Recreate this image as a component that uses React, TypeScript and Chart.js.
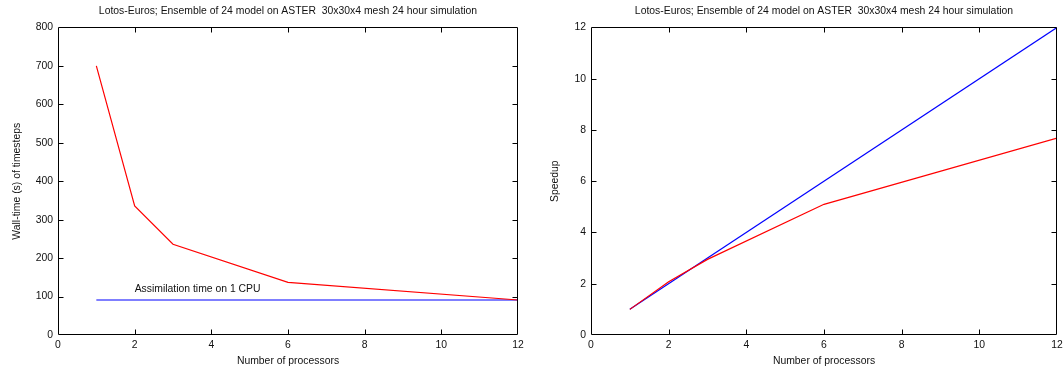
import React, { useEffect, useRef } from 'react';
import { Chart, registerables } from 'chart.js';

Chart.register(...registerables);

const TITLE = 'Lotos-Euros; Ensemble of 24 model on ASTER  30x30x4 mesh 24 hour simulation';
const X_TITLE = 'Number of processors';
const LEFT_Y_TITLE = 'Wall-time (s) of timesteps';
const RIGHT_Y_TITLE = 'Speedup';

// left panel data
const processors = [1, 2, 3, 6, 12];
const wallTime = [700, 336, 236, 137, 91];
const assimProcessors = [1, 12];
const assimTime = [91, 91];
const assimLabel = 'Assimilation time on 1 CPU';
const assimLabelAt = { x: 2, y: 119 };

// right panel data
const speedup = [1, 2.08, 2.95, 5.1, 7.68];
const idealProcessors = [1, 12];
const idealSpeedup = [1, 12];

const FONT = { family: '"Liberation Sans", Arial, sans-serif', size: 10.4 };
const TEXT = '#111';

const toPoints = (xs: number[], ys: number[]) => xs.map((x, i) => ({ x, y: ys[i] }));

const framePlugin = {
  id: 'gpFrame',
  afterDraw(chart: any) {
    const { ctx, chartArea: a, scales } = chart;
    const L = Math.round(a.left) + 0.5;
    const R = Math.round(a.right) - 0.5;
    const T = Math.round(a.top) + 0.5;
    const B = Math.round(a.bottom) - 0.5;
    ctx.save();
    ctx.strokeStyle = '#000';
    ctx.lineWidth = 1;
    ctx.beginPath();
    ctx.rect(L, T, R - L, B - T);
    const len = 5;
    scales.x.ticks.forEach((t: any) => {
      const px = Math.round(scales.x.getPixelForValue(t.value)) + 0.5;
      if (px <= L + 1 || px >= R - 1) return;
      ctx.moveTo(px, B); ctx.lineTo(px, B - len);
      ctx.moveTo(px, T); ctx.lineTo(px, T + len);
    });
    scales.y.ticks.forEach((t: any) => {
      const py = Math.round(scales.y.getPixelForValue(t.value)) + 0.5;
      if (py <= T + 1 || py >= B - 1) return;
      ctx.moveTo(L, py); ctx.lineTo(L + len, py);
      ctx.moveTo(R, py); ctx.lineTo(R - len, py);
    });
    ctx.stroke();
    const ann = chart.options.plugins.gpFrame && chart.options.plugins.gpFrame.label;
    if (ann) {
      ctx.fillStyle = TEXT;
      ctx.font = `${FONT.size}px ${FONT.family}`;
      ctx.textAlign = 'left';
      ctx.textBaseline = 'middle';
      ctx.fillText(ann.text, scales.x.getPixelForValue(ann.x), scales.y.getPixelForValue(ann.y));
    }
    ctx.restore();
  },
};

function makeConfig(p: {
  datasets: any[];
  yMax: number;
  yStep: number;
  yTitle: string;
  yTitlePad: number;
  yWidth: number;
  rightWidth: number;
  label?: any;
}): any {
  return {
    type: 'scatter',
    data: { datasets: p.datasets },
    plugins: [framePlugin],
    options: {
      responsive: false,
      animation: false,
      devicePixelRatio: 1,
      layout: { padding: 0 },
      plugins: {
        legend: { display: false },
        tooltip: { enabled: false },
        title: {
          display: true,
          text: TITLE,
          color: TEXT,
          font: { ...FONT, weight: 'normal', lineHeight: 1.2 },
          padding: { top: 5, bottom: 10 },
        },
        gpFrame: { label: p.label },
      },
      scales: {
        x: {
          type: 'linear',
          min: 0,
          max: 12,
          ticks: { stepSize: 2, padding: 4, color: TEXT, font: FONT, maxRotation: 0 },
          grid: { display: false, drawTicks: false },
          border: { display: false },
          title: { display: true, text: X_TITLE, color: TEXT, font: FONT, padding: { top: 0, bottom: 4 } },
          afterFit(s: any) { s.height = 36; },
        },
        y: {
          type: 'linear',
          min: 0,
          max: p.yMax,
          ticks: { stepSize: p.yStep, padding: 5, color: TEXT, font: FONT },
          grid: { display: false, drawTicks: false },
          border: { display: false },
          title: { display: true, text: p.yTitle, color: TEXT, font: FONT, padding: { top: p.yTitlePad, bottom: 0 } },
          afterFit(s: any) { s.width = p.yWidth; },
        },
        yRight: {
          type: 'linear',
          position: 'right',
          display: true,
          min: 0,
          max: p.yMax,
          ticks: { display: false },
          grid: { display: false, drawTicks: false },
          border: { display: false },
          afterFit(s: any) { s.width = p.rightWidth; },
        },
      },
    },
  };
}

const lineStyle = (color: string) => ({
  showLine: true,
  borderColor: color,
  backgroundColor: color,
  borderWidth: 1.2,
  pointRadius: 0,
  tension: 0,
});

function Panel({ left, width, config }: { left: number; width: number; config: () => any }) {
  const ref = useRef<HTMLCanvasElement | null>(null);
  useEffect(() => {
    if (!ref.current) return;
    const chart = new Chart(ref.current, config());
    return () => chart.destroy();
  }, []);
  return (
    <canvas
      ref={ref}
      width={width}
      height={371}
      style={{ position: 'absolute', left, top: 0, width, height: 371, display: 'block' }}
    />
  );
}

export default function App() {
  const leftConfig = () =>
    makeConfig({
      datasets: [
        { ...lineStyle('#ff0000'), data: toPoints(processors, wallTime) },
        { ...lineStyle('#0000ff'), data: toPoints(assimProcessors, assimTime) },
      ],
      yMax: 800,
      yStep: 100,
      yTitle: LEFT_Y_TITLE,
      yTitlePad: 11,
      yWidth: 58,
      rightWidth: 58,
      label: { text: assimLabel, x: assimLabelAt.x, y: assimLabelAt.y },
    });
  const rightConfig = () =>
    makeConfig({
      datasets: [
        { ...lineStyle('#ff0000'), data: toPoints(processors, speedup) },
        { ...lineStyle('#0000ff'), data: toPoints(idealProcessors, idealSpeedup) },
      ],
      yMax: 12,
      yStep: 2,
      yTitle: RIGHT_Y_TITLE,
      yTitlePad: 18,
      yWidth: 60,
      rightWidth: 60,
    });
  return (
    <div
      style={{
        position: 'fixed',
        left: 0,
        top: 0,
        width: 1063,
        height: 371,
        overflow: 'hidden',
        background: '#fff',
      }}
    >
      <Panel left={0} width={576} config={leftConfig} />
      <Panel left={531} width={586} config={rightConfig} />
    </div>
  );
}
